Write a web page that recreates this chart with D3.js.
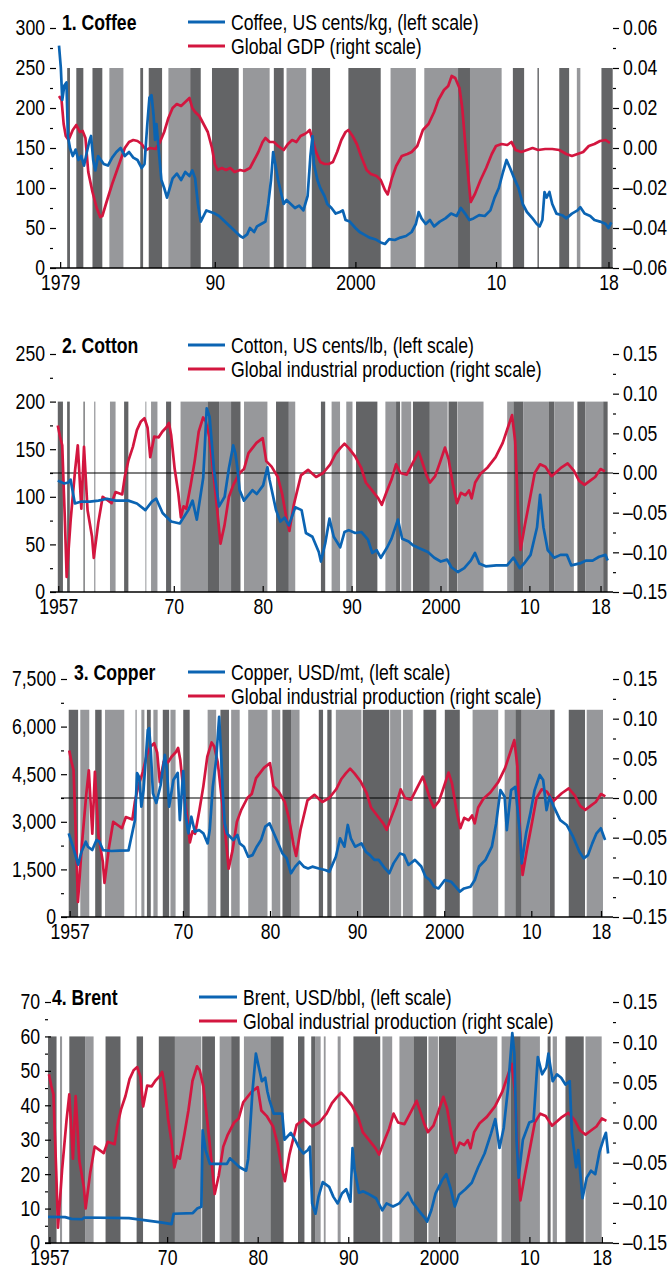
<!DOCTYPE html>
<html><head><meta charset="utf-8">
<script src="https://cdn.jsdelivr.net/npm/d3@7"></script>
<style>
body{margin:0;background:#fff;}
svg text{font-family:"Liberation Sans",Arial,sans-serif;}
</style></head><body>
<script>
// ---------------- DATA ----------------
const coffeeYearTicks = [1979,1990,2000,2010,2018];
const coffeeYearLabels = ["1979","90","2000","10","18"];
const ipYearTicks = [1957,1970,1980,1990,2000,2010,2018];
const ipYearLabels = ["1957","70","80","90","2000","10","18"];
const coffeeLeftTicks = [0,50,100,150,200,250,300];
const gdpRightTicks = [-0.06,-0.04,-0.02,0,0.02,0.04,0.06];
const cottonLeftTicks = [0,50,100,150,200,250];
const copperLeftTicks = [0,1500,3000,4500,6000,7500];
const brentLeftTicks = [0,10,20,30,40,50,60,70];
const ipRightTicks = [-0.15,-0.10,-0.05,0,0.05,0.10,0.15];

const coffeePrice = [[1978.92,278],[1979.05,250],[1979.15,210],[1979.3,228],[1979.45,232],[1979.55,165],[1979.7,150],[1979.9,140],[1980.1,148],[1980.3,135],[1980.5,140],[1980.7,128],[1980.9,145],[1981.1,160],[1981.2,165],[1981.35,135],[1981.5,122],[1981.7,140],[1981.9,135],[1982.1,130],[1982.4,128],[1982.7,138],[1983.0,145],[1983.3,150],[1983.6,140],[1983.9,145],[1984.2,138],[1984.5,135],[1984.8,125],[1985.0,130],[1985.2,180],[1985.35,213],[1985.5,216],[1985.65,190],[1985.75,160],[1985.85,180],[1986.0,150],[1986.2,110],[1986.4,100],[1986.6,88],[1986.8,100],[1987.0,112],[1987.3,118],[1987.6,110],[1987.9,120],[1988.2,115],[1988.4,122],[1988.6,112],[1988.8,80],[1989.0,58],[1989.2,65],[1989.4,72],[1989.7,70],[1990.0,68],[1990.3,65],[1990.6,60],[1990.9,55],[1991.2,50],[1991.5,45],[1991.8,40],[1992.0,38],[1992.3,42],[1992.5,50],[1992.8,45],[1993.0,52],[1993.3,55],[1993.6,58],[1993.8,80],[1994.0,110],[1994.15,145],[1994.3,130],[1994.5,110],[1994.7,95],[1994.9,80],[1995.1,85],[1995.4,80],[1995.7,75],[1996.0,78],[1996.3,72],[1996.6,90],[1996.8,140],[1996.95,165],[1997.05,130],[1997.3,110],[1997.5,100],[1997.8,90],[1998.0,80],[1998.3,75],[1998.6,68],[1998.9,70],[1999.1,72],[1999.3,60],[1999.6,58],[2000.0,50],[2000.3,45],[2000.6,42],[2001.0,38],[2001.4,36],[2001.8,32],[2002.1,30],[2002.4,36],[2002.8,35],[2003.2,38],[2003.6,40],[2004.0,45],[2004.3,55],[2004.5,70],[2004.7,62],[2005.0,55],[2005.3,60],[2005.6,52],[2006.0,58],[2006.4,62],[2006.8,68],[2007.2,65],[2007.5,75],[2007.8,68],[2008.1,60],[2008.4,62],[2008.8,66],[2009.2,65],[2009.6,72],[2009.9,88],[2010.2,100],[2010.5,120],[2010.75,135],[2011.0,125],[2011.3,112],[2011.6,100],[2011.9,80],[2012.2,70],[2012.6,62],[2012.9,55],[2013.1,52],[2013.3,60],[2013.45,95],[2013.6,88],[2013.8,95],[2014.0,80],[2014.3,68],[2014.7,66],[2015.0,62],[2015.4,68],[2015.8,72],[2016.0,76],[2016.3,68],[2016.7,65],[2017.0,60],[2017.4,58],[2017.8,55],[2018.0,50],[2018.2,57]];

const globalGDP = [[1978.92,0.026],[1979.1,0.024],[1979.25,0.012],[1979.4,0.006],[1979.6,0.004],[1979.9,0.009],[1980.15,0.0115],[1980.4,0.008],[1980.6,0.0085],[1980.8,0.005],[1981.0,-0.012],[1981.3,-0.022],[1981.6,-0.030],[1981.85,-0.0345],[1982.0,-0.034],[1982.3,-0.027],[1982.7,-0.018],[1983.0,-0.012],[1983.3,-0.006],[1983.6,0.0],[1983.9,0.003],[1984.2,0.004],[1984.5,0.0035],[1984.8,0.002],[1985.1,-0.001],[1985.4,0.0],[1985.8,-0.0005],[1986.1,0.003],[1986.4,0.008],[1986.7,0.015],[1987.0,0.020],[1987.3,0.022],[1987.6,0.021],[1987.9,0.023],[1988.2,0.025],[1988.4,0.020],[1988.6,0.018],[1988.9,0.016],[1989.2,0.012],[1989.5,0.008],[1989.8,0.0],[1990.0,-0.008],[1990.2,-0.011],[1990.5,-0.010],[1990.8,-0.011],[1991.1,-0.010],[1991.4,-0.012],[1991.8,-0.011],[1992.1,-0.0115],[1992.5,-0.010],[1992.8,-0.006],[1993.1,-0.002],[1993.4,0.003],[1993.6,0.005],[1993.9,0.003],[1994.2,0.003],[1994.5,0.001],[1994.9,-0.001],[1995.2,0.002],[1995.5,0.004],[1995.8,0.003],[1996.1,0.006],[1996.4,0.007],[1996.6,0.008],[1996.75,0.009],[1997.0,0.003],[1997.2,-0.002],[1997.5,-0.007],[1997.8,-0.008],[1998.1,-0.008],[1998.4,-0.007],[1998.7,-0.002],[1999.0,0.004],[1999.3,0.008],[1999.5,0.009],[1999.8,0.006],[2000.1,0.002],[2000.4,-0.004],[2000.8,-0.011],[2001.1,-0.013],[2001.5,-0.014],[2001.8,-0.016],[2002.1,-0.021],[2002.3,-0.0232],[2002.6,-0.015],[2002.9,-0.009],[2003.3,-0.004],[2003.7,-0.003],[2004.0,-0.002],[2004.4,0.001],[2004.8,0.009],[2005.2,0.012],[2005.6,0.018],[2005.9,0.024],[2006.3,0.029],[2006.6,0.031],[2006.85,0.036],[2007.1,0.035],[2007.4,0.030],[2007.6,0.020],[2007.9,-0.005],[2008.2,-0.027],[2008.5,-0.023],[2008.9,-0.016],[2009.3,-0.010],[2009.7,-0.003],[2010.0,0.001],[2010.4,0.002],[2010.8,0.0015],[2011.1,0.003],[2011.4,-0.001],[2011.8,-0.002],[2012.2,-0.001],[2012.6,0.0],[2013.0,-0.001],[2013.5,-0.0005],[2014.0,-0.0005],[2014.5,-0.001],[2015.0,-0.003],[2015.4,-0.004],[2015.8,-0.003],[2016.2,-0.002],[2016.6,0.001],[2017.0,0.002],[2017.4,0.0035],[2017.8,0.004],[2018.1,0.0025]];

const globalIP = [[1956.95,0.060],[1957.2,0.046],[1957.45,0.035],[1957.75,-0.06],[1957.95,-0.131],[1958.4,-0.059],[1958.9,0.004],[1959.2,0.035],[1959.6,-0.045],[1959.9,0.033],[1960.3,-0.047],[1960.8,-0.08],[1961.0,-0.107],[1961.5,-0.063],[1962.0,-0.030],[1962.5,-0.034],[1963.0,-0.038],[1963.45,-0.024],[1964.2,-0.027],[1964.5,-0.004],[1964.9,0.016],[1965.4,0.033],[1965.85,0.054],[1966.3,0.065],[1966.7,0.069],[1967.05,0.057],[1967.35,0.02],[1967.8,0.046],[1968.3,0.045],[1968.7,0.052],[1969.2,0.058],[1969.45,0.063],[1969.7,0.048],[1970.1,0.005],[1970.5,-0.025],[1970.8,-0.056],[1971.1,-0.042],[1971.4,-0.045],[1971.9,-0.015],[1972.35,0.015],[1972.8,0.052],[1973.3,0.07],[1973.6,0.065],[1974.0,0.045],[1974.5,-0.005],[1975.0,-0.06],[1975.25,-0.089],[1975.7,-0.066],[1976.2,-0.03],[1976.7,-0.015],[1977.4,0.0],[1977.9,0.005],[1978.4,0.025],[1979.3,0.038],[1980.0,0.044],[1980.4,0.015],[1981.0,0.008],[1981.7,-0.005],[1982.2,-0.027],[1982.7,-0.059],[1983.0,-0.073],[1983.5,-0.04],[1984.3,-0.003],[1985.1,0.004],[1986.0,-0.005],[1986.8,0.0],[1987.6,0.011],[1988.2,0.024],[1988.7,0.031],[1989.2,0.037],[1989.7,0.031],[1990.4,0.021],[1991.1,0.006],[1991.6,-0.012],[1992.3,-0.022],[1993.0,-0.032],[1993.4,-0.040],[1993.9,-0.025],[1994.5,-0.008],[1995.0,0.011],[1995.5,0.0],[1996.2,-0.002],[1996.9,0.013],[1997.55,0.027],[1998.0,0.012],[1998.4,-0.002],[1998.8,-0.012],[1999.4,-0.004],[1999.9,0.012],[2000.5,0.032],[2000.9,0.018],[2001.4,-0.015],[2001.85,-0.038],[2002.3,-0.025],[2002.8,-0.028],[2003.2,-0.022],[2003.5,-0.032],[2003.9,-0.012],[2004.5,-0.001],[2005.3,0.007],[2006.2,0.02],[2007.0,0.038],[2007.6,0.058],[2008.05,0.073],[2008.4,0.04],[2008.7,-0.04],[2009.0,-0.097],[2009.5,-0.065],[2010.1,-0.03],[2010.6,0.0],[2011.2,0.011],[2011.8,0.008],[2012.5,-0.004],[2013.5,0.006],[2014.3,0.012],[2015.0,0.003],[2015.6,-0.01],[2016.2,-0.015],[2016.8,-0.01],[2017.4,-0.005],[2018.0,0.005],[2018.5,0.002]];

const cottonPrice = [[1956.95,117],[1957.67,114],[1958.15,115],[1958.39,118],[1958.87,93],[1959.6,95],[1960.56,95],[1961.52,96],[1962.48,98],[1963.45,96],[1964.89,96],[1965.85,93],[1966.8,86],[1967.54,95],[1968.02,98],[1968.74,83],[1969.7,74],[1970.67,72],[1971.63,86],[1972.11,96],[1972.59,76],[1973.31,120],[1973.7,193],[1974.03,184],[1974.52,128],[1975.09,90],[1975.72,100],[1976.2,130],[1976.68,154],[1976.92,146],[1977.16,130],[1977.4,107],[1977.89,96],[1978.85,107],[1979.33,103],[1980.05,112],[1980.53,131],[1980.77,118],[1981.5,86],[1981.98,74],[1982.46,78],[1982.94,70],[1983.66,89],[1984.38,86],[1984.86,62],[1985.59,58],[1986.31,42],[1986.55,32],[1987.03,51],[1987.51,77],[1987.99,58],[1988.72,47],[1989.2,63],[1989.68,65],[1990.4,62],[1991.12,63],[1991.84,55],[1992.33,41],[1992.81,44],[1993.29,36],[1994.01,47],[1994.49,56],[1995.21,76],[1995.69,56],[1996.42,53],[1996.9,49],[1997.62,46],[1998.58,42],[1999.3,36],[2000.03,32],[2000.75,34],[2001.23,26],[2001.95,21],[2002.67,25],[2003.4,33],[2003.88,41],[2004.36,30],[2005.08,27],[2006.28,28],[2007.49,28],[2008.21,36],[2008.93,25],[2009.41,30],[2010.13,39],[2010.86,68],[2011.2,102],[2011.58,68],[2012.06,44],[2012.78,36],[2013.5,39],[2014.22,39],[2014.7,28],[2015.67,30],[2016.39,33],[2017.11,33],[2017.84,37],[2018.56,39],[2018.8,33]];

const copperPrice = [[1956.89,2637],[1957.38,2215],[1957.97,1650],[1958.36,2058],[1958.85,2373],[1959.1,2215],[1959.59,2110],[1960.08,2425],[1960.42,2373],[1960.82,2110],[1961.8,2080],[1962.78,2090],[1963.76,2100],[1964.01,2425],[1964.5,3057],[1964.74,4538],[1964.99,4400],[1965.23,3476],[1965.48,4000],[1965.97,5893],[1966.12,5950],[1966.31,5263],[1966.56,3900],[1966.95,3593],[1967.44,4150],[1967.93,5106],[1968.18,4600],[1968.42,3476],[1968.91,4317],[1969.4,4540],[1969.65,3055],[1970.04,4600],[1970.29,3265],[1970.63,2637],[1970.97,3160],[1971.37,2690],[1971.86,2740],[1972.35,2637],[1972.84,2320],[1973.08,2740],[1973.43,4100],[1973.82,4950],[1974.16,6310],[1974.41,5000],[1974.56,4000],[1974.8,2950],[1975.05,2637],[1975.78,2425],[1976.27,2585],[1976.52,2320],[1977.01,2215],[1977.5,1900],[1977.99,1950],[1978.48,2215],[1978.97,2425],[1979.46,2846],[1979.95,2950],[1980.44,2637],[1980.94,2320],[1981.43,2005],[1981.92,1847],[1982.41,1377],[1982.9,1587],[1983.39,1740],[1983.88,1587],[1984.37,1530],[1984.86,1587],[1985.6,1530],[1986.33,1480],[1986.82,1430],[1987.56,1900],[1988.05,2480],[1988.54,2215],[1988.93,2900],[1989.28,2480],[1989.77,2215],[1990.5,2320],[1991.0,2058],[1991.48,1950],[1991.98,1800],[1992.47,1800],[1993.2,1530],[1993.69,1380],[1994.18,1690],[1994.92,2005],[1995.41,1950],[1995.9,1640],[1996.64,1800],[1997.37,1590],[1997.86,1270],[1998.35,1165],[1998.85,955],[1999.34,900],[2000.07,1165],[2000.81,1110],[2001.3,955],[2001.79,800],[2002.28,900],[2003.02,955],[2003.51,1165],[2004.0,1590],[2004.74,1800],[2005.47,2215],[2005.96,2950],[2006.45,4000],[2006.94,3790],[2007.19,2740],[2007.68,4000],[2008.17,4100],[2008.66,2740],[2008.9,1690],[2009.4,2637],[2009.89,3265],[2010.38,4000],[2010.97,4475],[2011.36,4317],[2011.75,3370],[2012.1,3790],[2012.58,3476],[2013.32,3055],[2014.06,2900],[2014.79,2530],[2015.53,2058],[2016.02,1847],[2016.51,1950],[2017.0,2320],[2017.49,2637],[2017.98,2795],[2018.47,2425]];

const brentPrice = [[1956.85,7.6],[1958.73,7.5],[1959.44,7.0],[1960.61,6.9],[1960.85,7.4],[1965.79,7.2],[1969.31,6.0],[1970.49,5.5],[1970.72,8.5],[1972.84,8.7],[1973.31,10],[1973.78,10.5],[1973.92,32.7],[1974.25,27],[1974.72,23],[1976.6,23],[1976.93,24.6],[1978.01,22],[1978.72,21],[1978.95,24.5],[1979.42,44],[1979.8,55],[1980.13,51],[1980.46,47],[1980.83,48],[1981.07,44],[1981.3,41.5],[1981.77,37.6],[1982.71,37.6],[1982.95,30],[1983.65,32],[1984.12,30],[1984.6,27.5],[1985.06,26],[1985.54,27],[1985.77,28],[1986.01,11.5],[1986.38,8.5],[1986.71,13.4],[1987.18,17.7],[1987.89,16.3],[1988.36,13.4],[1988.83,11.5],[1989.3,14.4],[1989.77,15.6],[1990.24,12],[1990.47,27.6],[1990.71,21],[1991.18,14.6],[1991.65,15],[1992.12,14.4],[1993.06,13],[1993.76,9.5],[1994.23,11.5],[1994.94,10.6],[1995.64,11.5],[1996.59,14.6],[1997.06,12],[1997.76,9.5],[1998.47,7.2],[1998.7,6.2],[1999.17,9.5],[1999.64,14.4],[2000.35,18.2],[2000.82,20],[2001.29,15.9],[2001.76,10.6],[2002.23,14],[2002.93,15.6],[2003.64,17.5],[2004.34,22],[2005.05,26],[2005.75,31.7],[2006.23,36],[2006.7,27.6],[2007.17,33.5],[2007.64,45],[2008.11,61],[2008.34,55],[2008.58,30],[2008.81,19],[2009.28,30],[2009.99,35],[2010.46,35.5],[2010.93,54],[2011.4,49],[2011.87,51],[2012.1,55],[2012.57,47],[2013.04,49],[2013.51,48],[2013.98,46],[2014.45,47],[2014.69,32],[2015.16,22],[2015.39,27],[2015.86,13],[2016.33,19],[2016.8,21],[2017.27,20],[2017.74,26.5],[2018.22,30.5],[2018.45,32],[2018.69,26]];

// shading: [start year, end year, "d" dark / "l" light]
const coffeeShading = [[1979.5,1979.7,"d"],[1980.15,1980.65,"d"],[1981.3,1982.0,"d"],[1982.5,1983.5,"l"],[1984.7,1984.9,"d"],[1985.3,1986.25,"d"],[1986.7,1988.25,"l"],[1988.25,1989.0,"d"],[1989.8,1991.7,"d"],[1992.0,1993.9,"l"],[1994.2,1994.9,"d"],[1995.1,1996.5,"l"],[1996.9,1998.2,"d"],[1999.5,2001.8,"d"],[2002.5,2004.3,"l"],[2004.9,2007.3,"l"],[2007.3,2008.15,"d"],[2008.15,2010.4,"l"],[2011.2,2012.0,"d"],[2012.95,2013.05,"d"],[2014.5,2015.2,"d"],[2015.75,2016.0,"l"],[2017.5,2018.3,"d"]];
const cottonShading = [[1956.95,1957.53,"d"],[1958.0,1958.3,"d"],[1959.84,1959.98,"d"],[1961.04,1961.18,"l"],[1962.82,1963.45,"l"],[1964.41,1964.89,"d"],[1966.8,1966.9,"l"],[1967.44,1968.16,"l"],[1969.13,1969.7,"d"],[1970.76,1973.79,"l"],[1973.79,1975.09,"d"],[1975.09,1976.44,"l"],[1976.44,1977.5,"d"],[1977.9,1980.53,"l"],[1981.5,1982.94,"d"],[1982.94,1983.66,"l"],[1986.55,1987.03,"d"],[1987.75,1988.7,"l"],[1989.4,1990.1,"l"],[1990.5,1992.9,"d"],[1993.8,1995.0,"l"],[1995.0,1995.45,"d"],[1995.6,1996.7,"l"],[1996.9,1998.8,"d"],[1998.8,2000.8,"l"],[2000.9,2001.9,"d"],[2001.95,2004.84,"l"],[2007.5,2008.2,"l"],[2008.2,2009.3,"d"],[2009.3,2012.2,"l"],[2012.2,2012.8,"d"],[2012.8,2015.0,"l"],[2015.4,2016.3,"d"],[2016.3,2018.3,"l"],[2018.3,2018.8,"d"]];
const copperShading = [[1956.89,1957.97,"d"],[1958.22,1959.25,"l"],[1959.93,1960.67,"d"],[1961.06,1963.27,"l"],[1964.55,1964.7,"l"],[1965.23,1965.58,"l"],[1965.87,1966.31,"d"],[1966.61,1967.1,"l"],[1967.69,1968.42,"d"],[1968.57,1969.16,"l"],[1970.04,1970.78,"d"],[1972.84,1973.82,"l"],[1974.31,1975.29,"d"],[1975.54,1976.52,"l"],[1977.5,1979.71,"l"],[1980.2,1981.18,"l"],[1981.43,1982.41,"d"],[1982.41,1983.39,"l"],[1985.6,1986.09,"d"],[1986.58,1987.07,"d"],[1987.56,1990.5,"l"],[1990.65,1993.69,"d"],[1993.79,1995.06,"l"],[1995.26,1996.39,"l"],[1997.62,1999.09,"d"],[2000.07,2001.79,"d"],[2003.26,2006.2,"l"],[2006.94,2008.17,"l"],[2008.17,2008.9,"d"],[2008.9,2012.1,"l"],[2012.1,2012.68,"d"],[2014.3,2016.17,"d"],[2016.36,2018.23,"l"]];
const brentShading = [[1956.85,1957.79,"d"],[1958.17,1958.4,"l"],[1959.2,1960.94,"d"],[1960.94,1961.88,"l"],[1963.2,1964.85,"d"],[1966.63,1967.34,"d"],[1969.08,1970.86,"d"],[1970.86,1973.78,"l"],[1973.87,1975.28,"d"],[1975.8,1977.07,"l"],[1977.07,1978.01,"d"],[1978.48,1981.4,"l"],[1981.4,1982.86,"d"],[1984.45,1985.16,"d"],[1985.91,1986.33,"d"],[1986.33,1986.95,"l"],[1987.3,1987.5,"l"],[1988.83,1989.16,"l"],[1990.57,1993.53,"d"],[1993.77,1994.85,"l"],[1995.65,1997.2,"l"],[1997.2,1998.7,"d"],[1998.85,1999.9,"l"],[2000.0,2001.9,"d"],[2001.9,2006.46,"l"],[2006.93,2007.96,"l"],[2007.96,2009.05,"d"],[2009.05,2011.16,"l"],[2012.01,2012.34,"d"],[2012.57,2013.04,"l"],[2013.98,2016.0,"d"],[2016.19,2017.98,"l"]];

// ---------------- DRAW ----------------
const BLUE="#0b64b3", RED="#d3163f", DARK="#636466", LIGHT="#97989b";
const FS = 21.5;      // font size
const SX = 0.82;      // horizontal condensing (narrow face)
const svg = d3.select("body").append("svg").attr("width",671).attr("height",1270).style("display","block");
const fmtR = d => (d < -1e-9 ? "\u2013" : "") + Math.abs(d).toFixed(2);
const mids = arr => d3.pairs(arr).map(([a,b]) => (a+b)/2);

function condense(sel){
  sel.each(function(){
    const t = d3.select(this);
    const x = +t.attr("x") || 0, y = +t.attr("y") || 0;
    t.attr("x", null).attr("y", null)
     .attr("transform", `translate(${x},${y}) scale(${SX},1)`);
  });
}

const panels = [
 {title:"1. Coffee", titleX:62, legY:22, legX:[188,225], legTextX:231,
  legend:["Coffee, US cents/kg, (left scale)","Global GDP (right scale)"],
  L:50, R:613, y0:268, yTop:28, xDom:[1990,2010], xRng:[214.8,496],
  leftDom:[0,300], leftTicks:coffeeLeftTicks, leftFmt:d3.format("d"),
  rightDom:[-0.06,0.06], rightTicks:gdpRightTicks,
  xTicks:coffeeYearTicks, xLabels:coffeeYearLabels,
  shadeTop:250, zero:false, shading:coffeeShading, left:coffeePrice, right:globalGDP},
 {title:"2. Cotton", titleX:62, legY:345, legX:[188,225], legTextX:231,
  legend:["Cotton, US cents/lb, (left scale)","Global industrial production (right scale)"],
  L:50, R:613, y0:592, yTop:354, xDom:[1980,2010], xRng:[262.7,529.4],
  leftDom:[0,250], leftTicks:cottonLeftTicks, leftFmt:d3.format("d"),
  rightDom:[-0.15,0.15], rightTicks:ipRightTicks,
  xTicks:ipYearTicks, xLabels:ipYearLabels,
  shadeTop:200, zero:true, shading:cottonShading, left:cottonPrice, right:globalIP},
 {title:"3. Copper", titleX:74, legY:672, legX:[188,225], legTextX:231,
  legend:["Copper, USD/mt, (left scale)","Global industrial production (right scale)"],
  L:61, R:613, y0:917, yTop:679, xDom:[1980,2010], xRng:[270,531.3],
  leftDom:[0,7500], leftTicks:copperLeftTicks, leftFmt:d3.format(","),
  rightDom:[-0.15,0.15], rightTicks:ipRightTicks,
  xTicks:ipYearTicks, xLabels:ipYearLabels,
  shadeTop:6530, zero:true, shading:copperShading, left:copperPrice, right:globalIP},
 {title:"4. Brent", titleX:52, legY:997, legX:[199,237], legTextX:243,
  legend:["Brent, USD/bbl, (left scale)","Global industrial production (right scale)"],
  L:45, R:613, y0:1243, yTop:1002, xDom:[1980,2010], xRng:[257.7,529.4],
  leftDom:[0,70], leftTicks:brentLeftTicks, leftFmt:d3.format("d"),
  rightDom:[-0.15,0.15], rightTicks:ipRightTicks,
  xTicks:ipYearTicks, xLabels:ipYearLabels,
  shadeTop:60, zero:false, shading:brentShading, left:brentPrice, right:globalIP}
];

function styleAxis(g){
  g.select(".domain").remove();
  g.attr("font-size", FS).attr("font-family", null);
  g.selectAll("line").attr("stroke","#000").attr("stroke-width",1.2);
  g.selectAll("text").attr("fill","#000").call(condense);
}

panels.forEach(p => {
  const g = svg.append("g");
  const x = d3.scaleLinear().domain(p.xDom).range(p.xRng);
  const yL = d3.scaleLinear().domain(p.leftDom).range([p.y0, p.yTop]);
  const yR = d3.scaleLinear().domain(p.rightDom).range([p.y0, p.yTop]);

  const st = yL(p.shadeTop);
  g.append("g").selectAll("rect").data(p.shading).join("rect")
    .attr("x", d => x(d[0]))
    .attr("width", d => Math.max(1, x(d[1]) - x(d[0])))
    .attr("y", st).attr("height", p.y0 - st)
    .attr("fill", d => d[2] === "d" ? DARK : LIGHT);

  if (p.zero) {
    g.append("line").attr("x1", p.L).attr("x2", p.R)
      .attr("y1", yR(0)).attr("y2", yR(0))
      .attr("stroke", "#000").attr("stroke-width", 1.2);
  }

  g.append("line").attr("x1", p.L).attr("x2", p.R)
    .attr("y1", p.y0).attr("y2", p.y0).attr("stroke","#000").attr("stroke-width",1.4);

  const lineR = d3.line().x(d => x(d[0])).y(d => yR(d[1]));
  const lineL = d3.line().x(d => x(d[0])).y(d => yL(d[1]));
  g.append("path").datum(p.right).attr("d", lineR)
    .attr("fill","none").attr("stroke",RED).attr("stroke-width",2.7).attr("stroke-linejoin","round");
  g.append("path").datum(p.left).attr("d", lineL)
    .attr("fill","none").attr("stroke",BLUE).attr("stroke-width",2.7).attr("stroke-linejoin","round");

  const la = g.append("g").attr("transform",`translate(${p.L},0)`)
    .call(d3.axisLeft(yL).tickValues(p.leftTicks).tickSize(-6).tickPadding(5).tickFormat(p.leftFmt));
  styleAxis(la);
  const lm = g.append("g").attr("transform",`translate(${p.L},0)`)
    .call(d3.axisLeft(yL).tickValues(mids(p.leftTicks)).tickSize(-3).tickFormat(""));
  styleAxis(lm);

  const ra = g.append("g").attr("transform",`translate(${p.R},0)`)
    .call(d3.axisRight(yR).tickValues(p.rightTicks).tickSize(6).tickPadding(4).tickFormat(fmtR));
  styleAxis(ra);
  const rm = g.append("g").attr("transform",`translate(${p.R},0)`)
    .call(d3.axisRight(yR).tickValues(mids(p.rightTicks)).tickSize(3).tickFormat(""));
  styleAxis(rm);

  const labelOf = new Map(p.xTicks.map((t,i) => [t, p.xLabels[i]]));
  const ba = g.append("g").attr("transform",`translate(0,${p.y0})`)
    .call(d3.axisBottom(x).tickValues(p.xTicks).tickSize(-6).tickPadding(7).tickFormat(d => labelOf.get(d)));
  styleAxis(ba);

  g.append("text").attr("x", p.titleX).attr("y", p.legY + 8)
    .attr("font-size", FS).attr("font-weight","bold").text(p.title).call(condense);

  [BLUE, RED].forEach((c, i) => {
    const yy = p.legY + i * 24;
    g.append("line").attr("x1", p.legX[0]).attr("x2", p.legX[1])
      .attr("y1", yy).attr("y2", yy).attr("stroke", c).attr("stroke-width", 3);
    g.append("text").attr("x", p.legTextX).attr("y", yy + 7.5)
      .attr("font-size", FS).text(p.legend[i]).call(condense);
  });
});
</script>
</body></html>
